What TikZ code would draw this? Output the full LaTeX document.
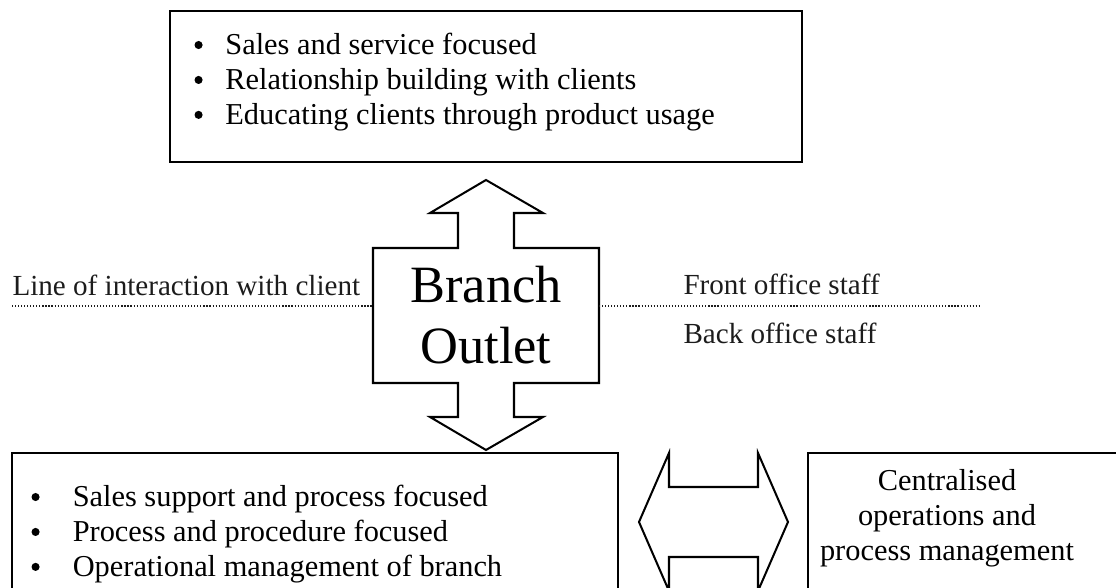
\documentclass[tikz,border=0pt]{standalone}
\usepackage{fontspec}
\setmainfont{Liberation Serif}
\usetikzlibrary{positioning}
\definecolor{rand}{HTML}{000000}
\definecolor{grau}{HTML}{1C1C1C}
\tikzset{
  kasten/.style={draw=rand,line width=0.8pt},
  blockpfeil/.style={draw=rand,line width=0.8pt,line join=miter},
  trennlinie/.style={grau,line width=0.5pt,dash pattern=on 0.45pt off 0.75pt},
  beschrift/.style={grau,inner sep=0pt,font=\fontsize{11.5}{13}\selectfont},
  liste/.style={inner sep=0pt,align=left,font=\fontsize{12}{13.8}\selectfont},
}
\newcommand{\pkt}[1]{\makebox[#1][l]{\raisebox{2.3pt}{\tikz\fill (0,0) circle (1.6pt);}}}

\begin{document}
\begin{tikzpicture}[x=0.395pt,y=-0.395pt]
  \clip (0,0) rectangle (1116,588);
  % oben: Kundenseite
  \draw[kasten] (170,11) rectangle (802,162);
  \node[liste,anchor=north west] (oben) at (194,33)
    {\pkt{12.2pt}Sales and service focused\\
     \pkt{12.2pt}Relationship building with clients\\
     \pkt{12.2pt}Educating clients through product usage};
  % Filiale mit Doppelpfeil
  \draw[blockpfeil] (486,180) -- (543,213) -- (514,213) -- (514,248) -- (599,248)
    -- (599,383) -- (514,383) -- (514,417) -- (543,417) -- (486,450) -- (430,417)
    -- (458,417) -- (458,383) -- (373,383) -- (373,248) -- (458,248) -- (458,213)
    -- (430,213) -- cycle;
  \node[inner sep=0pt,align=center,font=\fontsize{20.7}{23.8}\selectfont] (filiale) at (486,315) {Branch\\Outlet};
  % Trennlinie
  \coordinate (lka) at (12,306);
  \coordinate (lke) at (373,306);
  \coordinate (rka) at (599,306);
  \coordinate (rke) at (980,306);
  \draw[trennlinie] (lka) -- (lke);
  \draw[trennlinie] (rka) -- (rke);
  \node[beschrift,anchor=west] (kontakt) at (12,285) {Line of interaction with client};
  \node[beschrift,anchor=west] (front) at (683,284) {Front office staff};
  \node[beschrift,anchor=west] (back) at (683,333) {Back office staff};
  % unten: Back Office und Zentrale
  \draw[kasten] (12,453) rectangle (618,640);
  \node[liste,anchor=north west] (unten) at (31,485)
    {\pkt{16.3pt}Sales support and process focused\\
     \pkt{16.3pt}Process and procedure focused\\
     \pkt{16.3pt}Operational management of branch};
  \draw[blockpfeil] (639,522) -- (669,453) -- (669,487) -- (758,487) -- (758,453)
    -- (788,522) -- (758,591) -- (758,557) -- (669,557) -- (669,591) -- cycle;
  \draw[kasten] (808,453) rectangle (1160,640);
  \node[liste,align=center] (zentrale) at (947,518)
    {Centralised\\operations and\\process management};
\end{tikzpicture}
\end{document}
